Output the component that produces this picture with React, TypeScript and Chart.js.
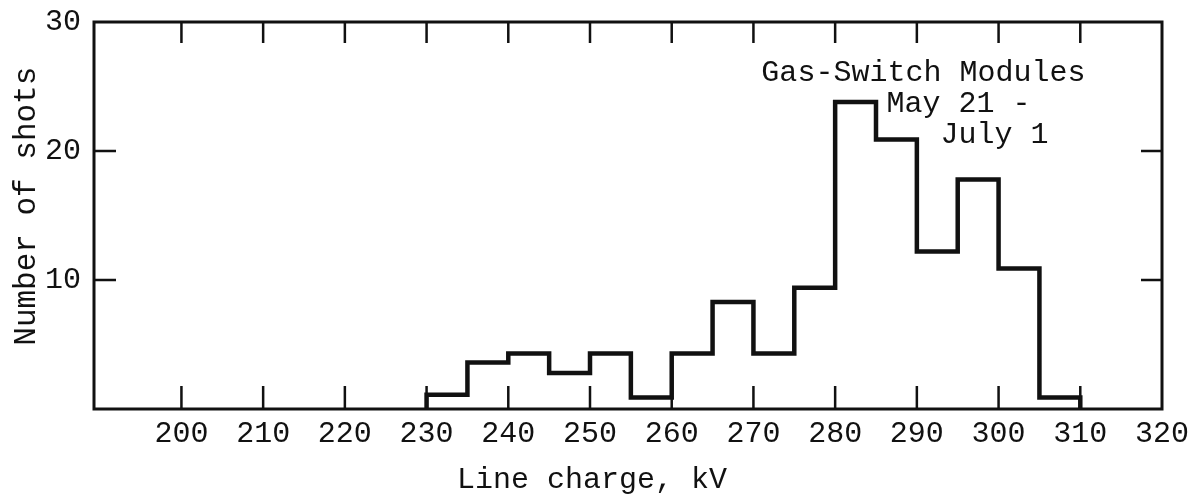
import { useEffect, useRef } from "react";
import { Chart, registerables } from "chart.js";

Chart.register(...registerables);

// ---- data ----
const binEdges = [230, 235, 240, 245, 250, 255, 260, 265, 270, 275, 280, 285, 290, 295, 300, 305, 310];
const shotCounts = [1.1, 3.6, 4.3, 2.8, 4.3, 0.9, 4.3, 8.3, 4.3, 9.4, 23.8, 20.9, 12.2, 17.8, 10.9, 0.9];
const xTickValues = [200, 210, 220, 230, 240, 250, 260, 270, 280, 290, 300, 310, 320];
const xFrameTicks = [200, 210, 220, 230, 240, 250, 260, 270, 280, 290, 300, 310];
const yTickValues = [10, 20, 30];
const yFrameTicks = [10, 20];
const xTitle = "Line charge, kV    ";
const yTitle = " Number of shots";
const noteLines = ["Gas-Switch Modules", "May 21 -", "July 1"];
const noteX = [290.8, 295.1, 299.5];
const noteY = [25.4, 23.0, 20.6];

const INK = "#111";
const FONT_FAMILY = "'Liberation Mono', 'Courier New', monospace";
const FONT_SIZE = 30;

const framePlugin = {
  id: "frame",
  afterDatasetsDraw(chart: any) {
    const { ctx, chartArea: a, scales } = chart;
    const x = scales.x;
    const y = scales.y;
    ctx.save();
    ctx.strokeStyle = INK;
    ctx.lineWidth = 3;
    ctx.strokeRect(a.left, a.top, a.right - a.left, a.bottom - a.top);
    ctx.lineWidth = 2.5;
    ctx.beginPath();
    xFrameTicks.forEach((v) => {
      const px = x.getPixelForValue(v);
      ctx.moveTo(px, a.bottom);
      ctx.lineTo(px, a.bottom - 23);
      ctx.moveTo(px, a.top);
      ctx.lineTo(px, a.top + 21);
    });
    yFrameTicks.forEach((v) => {
      const py = y.getPixelForValue(v);
      ctx.moveTo(a.left, py);
      ctx.lineTo(a.left + 22, py);
      ctx.moveTo(a.right, py);
      ctx.lineTo(a.right - 21, py);
    });
    ctx.stroke();
    ctx.fillStyle = INK;
    ctx.font = `${FONT_SIZE}px ${FONT_FAMILY}`;
    ctx.textAlign = "center";
    ctx.textBaseline = "alphabetic";
    noteLines.forEach((t, i) => {
      ctx.fillText(t, x.getPixelForValue(noteX[i]), y.getPixelForValue(noteY[i]));
    });
    ctx.restore();
  },
};

export default function App() {
  const ref = useRef<HTMLCanvasElement | null>(null);

  useEffect(() => {
    if (!ref.current) return;
    const pts: { x: number; y: number }[] = [{ x: binEdges[0], y: 0 }];
    shotCounts.forEach((c, i) => pts.push({ x: binEdges[i], y: c }));
    const last = binEdges[binEdges.length - 1];
    pts.push({ x: last, y: shotCounts[shotCounts.length - 1] });
    pts.push({ x: last, y: 0 });

    const font = { family: FONT_FAMILY, size: FONT_SIZE };

    const chart = new Chart(ref.current, {
      type: "line",
      data: {
        datasets: [
          {
            data: pts,
            stepped: "before",
            borderColor: INK,
            borderWidth: 4.5,
            borderJoinStyle: "miter",
            borderCapStyle: "butt",
            pointRadius: 0,
            fill: false,
            clip: false,
          } as any,
        ],
      },
      options: {
        animation: false,
        responsive: false,
        devicePixelRatio: 1,
        layout: { padding: { top: 22, right: 26, bottom: 0, left: 7 } },
        plugins: { legend: { display: false }, tooltip: { enabled: false } },
        scales: {
          x: {
            type: "linear",
            min: 189.3,
            max: 320,
            afterBuildTicks: (s: any) => {
              s.ticks = xTickValues.map((v) => ({ value: v }));
            },
            afterFit: (s: any) => {
              s.height = 87;
              s.paddingLeft = 0;
              s.paddingRight = 0;
            },
            ticks: {
              font,
              color: INK,
              padding: 7,
              maxRotation: 0,
              autoSkip: false,
              callback: (v: any) => String(v),
            },
            grid: { display: false, drawTicks: false },
            border: { display: false },
            title: {
              display: true,
              text: xTitle,
              font,
              color: INK,
              padding: { top: 0, bottom: -2.5 },
            },
          },
          y: {
            type: "linear",
            min: 0,
            max: 30,
            afterBuildTicks: (s: any) => {
              s.ticks = yTickValues.map((v) => ({ value: v }));
            },
            afterFit: (s: any) => {
              s.width = 87;
              s.paddingTop = 0;
              s.paddingBottom = 0;
            },
            ticks: {
              font,
              color: INK,
              padding: 13,
              autoSkip: false,
              callback: (v: any) => String(v),
            },
            grid: { display: false, drawTicks: false },
            border: { display: false },
            title: {
              display: true,
              text: yTitle,
              font: { family: FONT_FAMILY, size: 31 },
              color: INK,
              padding: { top: 1, bottom: 0 },
            },
          },
        },
      },
      plugins: [framePlugin],
    });
    return () => chart.destroy();
  }, []);

  return (
    <div style={{ position: "fixed", left: 0, top: 0, width: 1188, height: 496, background: "#fff" }}>
      <canvas ref={ref} width={1188} height={496} style={{ width: 1188, height: 496 }} />
    </div>
  );
}
